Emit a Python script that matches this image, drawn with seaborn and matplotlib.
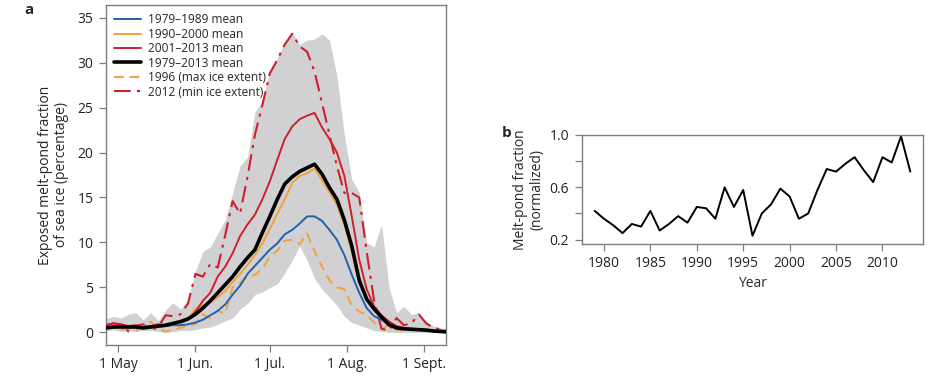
import numpy as np
import pandas as pd
import matplotlib
matplotlib.use("Agg")
import matplotlib.pyplot as plt
import seaborn as sns

sns.set_style("ticks")
plt.rcParams['font.family'] = ['Open Sans', 'DejaVu Sans']

# ---- panel a: days counted from 1 May ----
days = [-5, -2, 1, 4, 7, 10, 13, 16, 19, 22, 25, 28, 31, 34, 37, 40, 43, 46, 49, 52,
        55, 58, 61, 64, 67, 70, 73, 76, 79, 82, 85, 88, 91, 94, 97, 100, 103, 106, 109,
        112, 115, 118, 121, 124, 127, 130, 132]

mean_7989 = [0.5, 0.6, 0.6, 0.6, 0.6, 0.5, 0.6, 0.6, 0.7, 0.8, 0.8, 0.9, 1.1, 1.4, 1.9, 2.4,
             3.1, 4.2, 5.2, 6.5, 7.4, 8.3, 9.2, 9.9, 10.9, 11.4, 12.1, 12.9, 12.9, 12.4, 11.4,
             10.3, 8.6, 6.4, 4.4, 2.7, 1.8, 1.4, 0.85, 0.5, 0.4, 0.35, 0.3, 0.25, 0.15, 0.1, 0.05]
mean_9000 = [0.4, 0.5, 0.6, 0.4, 0.6, 0.7, 0.5, 0.6, 0.8, 0.9, 1.1, 1.5, 2.6, 3.0, 3.3, 3.9,
             4.6, 5.6, 6.5, 7.5, 8.6, 9.9, 11.5, 13.2, 14.8, 16.6, 17.4, 17.7, 18.2, 16.9, 15.6,
             14.2, 12.0, 9.0, 5.5, 3.6, 2.5, 1.8, 1.2, 0.6, 0.5, 0.3, 0.4, 0.2, 0.2, 0.15, 0.1]
mean_0113 = [0.8, 1.0, 0.9, 0.7, 0.8, 0.6, 0.7, 0.9, 0.7, 0.9, 1.1, 1.4, 2.3, 3.5, 4.4, 6.2,
             7.3, 8.8, 10.7, 12.0, 13.1, 14.8, 16.8, 19.2, 21.5, 22.9, 23.7, 24.1, 24.4, 22.8, 21.5,
             20.0, 17.4, 12.9, 8.1, 4.8, 2.9, 1.9, 1.2, 0.7, 0.5, 0.4, 0.35, 0.3, 0.2, 0.2, 0.15]
mean_7913 = [0.5, 0.6, 0.6, 0.6, 0.6, 0.5, 0.6, 0.7, 0.8, 1.0, 1.2, 1.5, 2.0, 2.7, 3.5, 4.4,
             5.3, 6.2, 7.3, 8.3, 9.2, 11.1, 12.9, 14.8, 16.5, 17.3, 17.9, 18.3, 18.7, 17.6, 16.1,
             14.8, 12.5, 9.6, 5.8, 3.7, 2.6, 1.7, 0.85, 0.5, 0.4, 0.35, 0.3, 0.25, 0.15, 0.1, 0.05]
year_1996 = [0.3, 0.6, 0.3, 0.4, 0.2, 0.6, 1.2, 0.4, 0.1, 0.3, 0.5, 0.8, 0.9, 2.0, 1.6, 2.4,
             2.1, 5.0, 5.5, 6.2, 6.4, 7.1, 8.4, 9.1, 10.2, 10.3, 9.8, 11.0, 9.0, 7.3, 5.8,
             5.0, 4.8, 3.0, 2.3, 2.0, 1.1, 0.4, 0.8, 0.3, 0.2, 0.3, 0.2, 0.2, 0.1, 0.1, 0.1]
year_2012 = [0.8, 1.0, 0.9, 0.1, 0.7, 0.9, 0.2, 0.6, 1.9, 1.8, 2.0, 3.2, 6.5, 6.2, 7.6, 7.2,
             10.8, 14.6, 13.2, 17.3, 22.0, 25.3, 28.8, 30.3, 32.0, 33.2, 31.8, 31.2, 29.0, 25.5, 22.0,
             18.5, 15.5, 15.5, 15.0, 9.0, 3.5, 0.4, 0.2, 1.6, 0.8, 1.0, 2.0, 1.0, 0.5, 0.3, 0.3]
range_hi = [1.5, 1.8, 1.6, 2.0, 2.2, 1.4, 2.2, 1.3, 2.5, 3.3, 2.6, 3.6, 6.8, 9.0, 9.5, 11.0,
            12.5, 15.5, 18.5, 19.5, 24.5, 25.8, 29.0, 30.5, 32.3, 33.4, 32.0, 32.5, 32.6, 33.2, 32.5,
            28.5, 22.0, 17.0, 15.6, 10.0, 9.5, 12.0, 5.0, 2.2, 2.9, 2.0, 2.2, 1.2, 0.7, 0.5, 0.4]
range_lo = [0.2, 0.3, 0.1, 0.2, 0.1, 0.2, 0.2, 0.1, 0.0, 0.1, 0.2, 0.2, 0.3, 0.5, 0.6, 0.9,
            1.3, 1.6, 2.6, 3.2, 4.2, 4.5, 5.0, 5.4, 6.6, 8.0, 9.6, 8.0, 6.0, 4.8, 3.9,
            3.0, 1.8, 1.1, 0.8, 0.5, 0.2, 0.1, 0.0, 0.0, 0.0, 0.0, 0.0, 0.0, 0.0, 0.0, 0.0]

month_ticks = [0, 31, 61, 92, 123]
month_labels = ["1 May", "1 Jun.", "1 Jul.", "1 Aug.", "1 Sept."]

# ---- panel b ----
years = list(range(1979, 2014))
pond_norm = [0.42, 0.36, 0.31, 0.25, 0.32, 0.30, 0.42, 0.27, 0.32, 0.38, 0.33, 0.45,
             0.44, 0.36, 0.60, 0.45, 0.58, 0.23, 0.40, 0.47, 0.59, 0.53, 0.36, 0.40,
             0.58, 0.74, 0.72, 0.78, 0.83, 0.73, 0.64, 0.83, 0.79, 0.99, 0.72]

df = pd.DataFrame({"day": days, "m7989": mean_7989, "m9000": mean_9000, "m0113": mean_0113,
                   "m7913": mean_7913, "y1996": year_1996, "y2012": year_2012,
                   "lo": range_lo, "hi": range_hi})
dfb = pd.DataFrame({"year": years, "frac": pond_norm})

fig = plt.figure(figsize=(9.5, 3.82), dpi=100)
ax = fig.add_axes([0.1116, 0.0969, 0.358, 0.890])
axb = fig.add_axes([0.6123, 0.3613, 0.3596, 0.2853])

blue = "#1f63ad"
orange = "#f3a13a"
red = "#cf1f2b"
spine_c = "#7f7f7f"

ax.fill_between(df["day"], df["lo"], df["hi"], color="#d1d1d3", lw=0, zorder=1)
sns.lineplot(data=df, x="day", y="y1996", ax=ax, color=orange, lw=1.4,
             linestyle=(0, (5, 3)), label="1996 (max ice extent)", zorder=2)
sns.lineplot(data=df, x="day", y="y2012", ax=ax, color=red, lw=1.5,
             linestyle=(0, (8, 3, 1.5, 3)), label="2012 (min ice extent)", zorder=2)
sns.lineplot(data=df, x="day", y="m7989", ax=ax, color=blue, lw=1.4, label="1979\u20131989 mean", zorder=3)
sns.lineplot(data=df, x="day", y="m9000", ax=ax, color=orange, lw=1.4, label="1990\u20132000 mean", zorder=3)
sns.lineplot(data=df, x="day", y="m0113", ax=ax, color=red, lw=1.4, label="2001\u20132013 mean", zorder=3)
sns.lineplot(data=df, x="day", y="m7913", ax=ax, color="black", lw=2.6, label="1979\u20132013 mean", zorder=4)

h, l = ax.get_legend_handles_labels()
order = [2, 3, 4, 5, 0, 1]
ax.legend([h[i] for i in order], [l[i] for i in order], loc="upper left", frameon=False,
          fontsize=8.6, handlelength=2.2, handletextpad=0.6, labelspacing=0.12,
          borderaxespad=0.3, bbox_to_anchor=(0.0, 1.0))

ax.set_xlim(-5, 132)
ax.set_ylim(-1.4, 36.4)
ax.set_yticks([0, 5, 10, 15, 20, 25, 30, 35])
ax.set_xticks(month_ticks)
ax.set_xticklabels(month_labels)
ax.set_xlabel("")
ax.set_ylabel("Exposed melt-pond fraction\nof sea ice (percentage)", fontsize=10, labelpad=6,
              linespacing=1.1)

sns.lineplot(data=dfb, x="year", y="frac", ax=axb, color="black", lw=1.4)
axb.set_xlim(1977.6, 2014.4)
axb.set_ylim(0.167, 1.0)
axb.set_yticks([0.2, 0.4, 0.6, 0.8, 1.0])
axb.set_yticklabels(["0.2", "", "0.6", "", "1.0"])
axb.set_xticks([1980, 1985, 1990, 1995, 2000, 2005, 2010])
axb.set_xlabel("Year", fontsize=10, labelpad=3)
axb.set_ylabel("Melt-pond fraction\n(normalized)", fontsize=10, labelpad=4, linespacing=1.1)

for a in (ax, axb):
    for s in a.spines.values():
        s.set_visible(True)
        s.set_color(spine_c)
        s.set_linewidth(1.0)
    a.tick_params(direction="out", length=5, width=0.9, color=spine_c, labelsize=10,
                  labelcolor="#222222", pad=4)

fig.text(0.026, 0.975, "a", fontsize=11, fontweight="bold", va="center")
fig.text(0.528, 0.652, "b", fontsize=11, fontweight="bold", va="center")

fig.savefig("out.png", dpi=100)
